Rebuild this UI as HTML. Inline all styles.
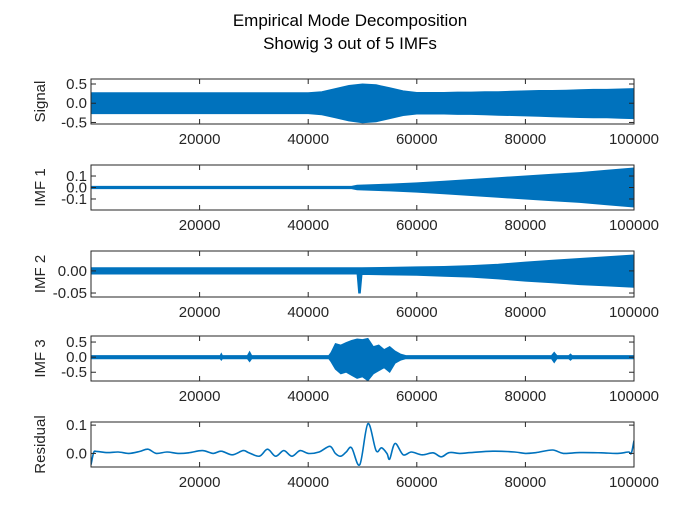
<!DOCTYPE html>
<html><head><meta charset="utf-8"><style>
body{margin:0;background:#fff;}
svg{display:block;font-family:"Liberation Sans","DejaVu Sans",sans-serif;}
</style></head><body>
<svg id="fig" width="700" height="525">
<text x="350" y="26" text-anchor="middle" font-size="17" fill="#000">Empirical Mode Decomposition</text>
<text x="350" y="49" text-anchor="middle" font-size="17" fill="#000">Showig 3 out of 5 IMFs</text>
</svg>
<script>
// x tick labels
const xTicks = [20000, 40000, 60000, 80000, 100000];
// Signal envelope
const sigX = [0,2500,5000,7500,10000,12500,15000,17500,20000,22500,25000,27500,30000,32500,35000,37500,40000,42500,45000,47500,50000,52500,55000,57500,60000,62500,65000,67500,70000,72500,75000,77500,80000,82500,85000,87500,90000,92500,95000,97500,100000];
const sigHi = [0.27,0.27,0.27,0.27,0.27,0.27,0.27,0.27,0.27,0.27,0.27,0.27,0.27,0.27,0.27,0.27,0.27,0.30,0.38,0.46,0.50,0.48,0.40,0.32,0.28,0.28,0.28,0.29,0.29,0.30,0.30,0.31,0.32,0.33,0.33,0.34,0.35,0.36,0.36,0.37,0.38];
const sigLo = [-0.27,-0.27,-0.27,-0.27,-0.27,-0.27,-0.27,-0.27,-0.27,-0.27,-0.27,-0.27,-0.27,-0.27,-0.27,-0.27,-0.27,-0.30,-0.38,-0.46,-0.51,-0.48,-0.40,-0.32,-0.28,-0.28,-0.28,-0.29,-0.29,-0.30,-0.31,-0.32,-0.33,-0.34,-0.35,-0.36,-0.37,-0.38,-0.38,-0.39,-0.40];
// IMF1 envelope
const imf1X = [0,10000,20000,30000,40000,48000,49000,55000,60000,65000,70000,75000,80000,85000,90000,95000,100000];
const imf1Hi = [0.01,0.01,0.01,0.01,0.01,0.01,0.02,0.03,0.04,0.055,0.07,0.085,0.10,0.115,0.13,0.15,0.17];
const imf1Lo = [-0.01,-0.01,-0.01,-0.01,-0.01,-0.01,-0.02,-0.03,-0.04,-0.055,-0.07,-0.085,-0.10,-0.115,-0.13,-0.15,-0.17];
// IMF2 envelope
const imf2X = [0,10000,20000,30000,40000,49000,49300,49600,49900,55000,60000,65000,70000,75000,80000,85000,90000,95000,100000];
const imf2Hi = [0.007,0.007,0.007,0.007,0.007,0.007,0.007,0.007,0.007,0.008,0.009,0.010,0.012,0.015,0.020,0.024,0.028,0.032,0.036];
const imf2Lo = [-0.007,-0.007,-0.007,-0.007,-0.007,-0.007,-0.05,-0.05,-0.008,-0.009,-0.010,-0.012,-0.014,-0.018,-0.023,-0.027,-0.031,-0.034,-0.037];
// IMF3 envelope
const imf3X = [0,23800,24000,24200,28800,29200,29600,43800,44200,45000,46000,47000,48000,49000,50000,51000,52000,53000,54000,55000,56000,57000,58000,84800,85300,85800,88000,88300,88600,100000];
const imf3Hi = [0.05,0.05,0.12,0.05,0.05,0.18,0.05,0.05,0.15,0.45,0.40,0.48,0.55,0.60,0.58,0.62,0.35,0.40,0.25,0.35,0.20,0.10,0.05,0.05,0.16,0.05,0.05,0.1,0.05,0.05];
const imf3Lo = [-0.05,-0.05,-0.1,-0.05,-0.05,-0.15,-0.05,-0.05,-0.15,-0.40,-0.55,-0.50,-0.60,-0.70,-0.65,-0.78,-0.55,-0.45,-0.35,-0.50,-0.20,-0.10,-0.05,-0.05,-0.18,-0.05,-0.05,-0.1,-0.05,-0.05];
// Residual values
const resX = [0,500,1000,3000,5000,7000,9000,10500,12000,14000,16000,18000,20500,22500,24000,26000,28000,29000,31000,32500,34000,35500,37000,38500,40000,42000,44000,45000,46000,47000,48000,49500,51000,52500,53500,54500,55000,56000,57500,59000,61000,63000,64500,66000,68000,70000,74000,78000,80000,82000,85000,87000,90000,94000,97000,99000,99500,100000];
const resY = [-0.04,0.003,0.007,0.003,0.005,0.0,0.007,0.015,0.0,0.005,0.0,0.002,0.01,0.0,0.008,-0.005,0.01,0.003,-0.01,0.015,-0.01,0.01,-0.01,0.01,0.0,0.005,0.025,0.0,-0.01,0.005,0.02,-0.04,0.105,0.01,0.02,0.0,-0.02,0.035,-0.005,0.005,-0.005,0.002,-0.012,0.003,0.0,0.003,0.008,0.005,0.0,0.003,0.012,0.0,0.003,0.002,0.0,0.005,0.0,0.045];

const panels = [
 {name:'signal',label:'Signal',top:79,bot:124,ymin:-0.54,ymax:0.63,ticks:[0.5,0,-0.5],tl:['0.5','0.0','-0.5'],type:'env',x:sigX,hi:sigHi,lo:sigLo},
 {name:'imf-1',label:'IMF 1',top:165,bot:210,ymin:-0.196,ymax:0.196,ticks:[0.1,0,-0.1],tl:['0.1','0.0','-0.1'],type:'env',x:imf1X,hi:imf1Hi,lo:imf1Lo},
 {name:'imf-2',label:'IMF 2',top:251,bot:297,ymin:-0.059,ymax:0.045,ticks:[0,-0.05],tl:['0.00','-0.05'],type:'env',x:imf2X,hi:imf2Hi,lo:imf2Lo},
 {name:'imf-3',label:'IMF 3',top:336,bot:381,ymin:-0.79,ymax:0.70,ticks:[0.5,0,-0.5],tl:['0.5','0.0','-0.5'],type:'env',x:imf3X,hi:imf3Hi,lo:imf3Lo},
 {name:'residual',label:'Residual',top:422,bot:467,ymin:-0.048,ymax:0.111,ticks:[0.1,0],tl:['0.1','0.0'],type:'line',x:resX,y:resY}
];
const NS='http://www.w3.org/2000/svg';
const svg=document.getElementById('fig');
const L=91,R=634;
const xs=v=>L+(v/100000)*(R-L);
function mk(tag,attrs,parent){const e=document.createElementNS(NS,tag);for(const k in attrs)e.setAttribute(k,attrs[k]);(parent||svg).appendChild(e);return e;}
function smooth(pts){
 let d='M'+pts[0][0].toFixed(1)+','+pts[0][1].toFixed(1);
 for(let i=0;i<pts.length-1;i++){
  const p0=pts[Math.max(0,i-1)],p1=pts[i],p2=pts[i+1],p3=pts[Math.min(pts.length-1,i+2)];
  const c1=[p1[0]+(p2[0]-p0[0])/6,p1[1]+(p2[1]-p0[1])/6];
  const c2=[p2[0]-(p3[0]-p1[0])/6,p2[1]-(p3[1]-p1[1])/6];
  d+=' C'+c1[0].toFixed(1)+','+c1[1].toFixed(1)+' '+c2[0].toFixed(1)+','+c2[1].toFixed(1)+' '+p2[0].toFixed(1)+','+p2[1].toFixed(1);
 }
 return d;
}
panels.forEach(p=>{
 const g=mk('g',{});
 
 
 const ys=v=>p.bot-(v-p.ymin)/(p.ymax-p.ymin)*(p.bot-p.top);
 const cp=mk('clipPath',{id:'c-'+p.name},g);
 mk('rect',{x:L,y:p.top,width:R-L,height:p.bot-p.top},cp);
 if(p.type==='env'){
  const up=p.x.map((v,i)=>xs(v).toFixed(1)+','+ys(p.hi[i]).toFixed(1));
  const dn=p.x.map((v,i)=>xs(v).toFixed(1)+','+ys(p.lo[i]).toFixed(1)).reverse();
  const s=mk('polygon',{points:up.concat(dn).join(' '),fill:'#0072BD',stroke:'#0072BD','stroke-width':1,'clip-path':'url(#c-'+p.name+')'},g);
  
  
 } else {
  const pts=p.x.map((v,i)=>[xs(v),ys(p.y[i])]);
  const s=mk('path',{d:smooth(pts),fill:'none',stroke:'#0072BD','stroke-width':1.6,'stroke-linejoin':'round','clip-path':'url(#c-'+p.name+')'},g);
  
  
 }
 const box=mk('rect',{x:L,y:p.top,width:R-L,height:p.bot-p.top,fill:'none',stroke:'#262626','stroke-width':1},g);
 
 
 xTicks.forEach(t=>{
  const x=xs(t);
  mk('line',{x1:x,x2:x,y1:p.bot,y2:p.bot-5,stroke:'#262626'},g);
  mk('line',{x1:x,x2:x,y1:p.top,y2:p.top+5,stroke:'#262626'},g);
  const tx=mk('text',{x:x,y:p.bot+20,'text-anchor':'middle','font-size':15,fill:'#262626'},g);
  tx.textContent=t;
  
  
 });
 p.ticks.forEach((t,i)=>{
  const y=ys(t);
  mk('line',{x1:L,x2:L+5,y1:y,y2:y,stroke:'#262626'},g);
  mk('line',{x1:R,x2:R-5,y1:y,y2:y,stroke:'#262626'},g);
  const tx=mk('text',{x:L-4,y:y+5,'text-anchor':'end','font-size':15,fill:'#262626'},g);
  tx.textContent=p.tl[i];
  
  
 });
 const cy=(p.top+p.bot)/2;
 const yl=mk('text',{x:0,y:0,'text-anchor':'middle','font-size':15,fill:'#262626',transform:'translate(45,'+cy+') rotate(-90)'},g);
 yl.textContent=p.label;
 
 
});
</script>
</body></html>
